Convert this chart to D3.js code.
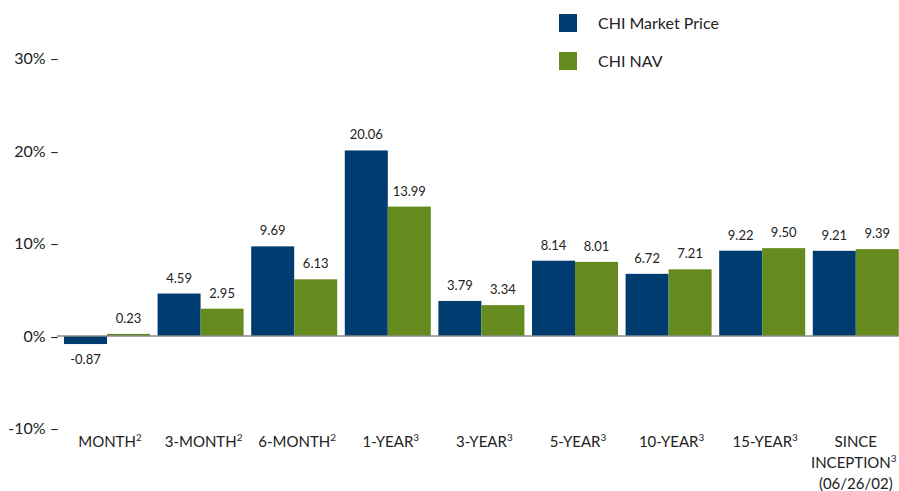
<!DOCTYPE html>
<html>
<head>
<meta charset="utf-8">
<script src="https://cdn.jsdelivr.net/npm/d3@7/dist/d3.min.js"></script>
<style>
  html, body { margin: 0; padding: 0; background: #fff; }
  svg { display: block; font-family: Lato, "Open Sans", sans-serif; }
</style>
</head>
<body>
<svg id="chart" width="899" height="491"></svg>
<script>
// Period categories and their footnote markers
const periods = ["MONTH", "3-MONTH", "6-MONTH", "1-YEAR", "3-YEAR", "5-YEAR", "10-YEAR", "15-YEAR", "SINCE INCEPTION"];
const footnotes = ["2", "2", "2", "3", "3", "3", "3", "3", "3"];
const marketPrice = [-0.87, 4.59, 9.69, 20.06, 3.79, 8.14, 6.72, 9.22, 9.21];
const nav = [0.23, 2.95, 6.13, 13.99, 3.34, 8.01, 7.21, 9.50, 9.39];
const seriesNames = ["CHI Market Price", "CHI NAV"];
const seriesColors = ["#003c6f", "#658b1e"];
const yTicks = [-10, 0, 10, 20, 30];

const svg = d3.select("#chart");

const y = d3.scaleLinear().domain([-10, 30]).range([428.5, 58.5]);

const x = d3.scaleBand()
  .domain(periods)
  .range([60.2, 60.2 + 9 * 93.6])
  .paddingInner(0.081)
  .paddingOuter(0.0405);

const xs = d3.scaleBand().domain(seriesNames).range([0, x.bandwidth()]);

// Y-axis tick labels with dash marks
const yAxis = svg.append("g");
yAxis.selectAll("text")
  .data(yTicks)
  .join("text")
  .attr("x", 59)
  .attr("y", d => y(d))
  .attr("dy", "0.35em")
  .attr("text-anchor", "end")
  .attr("font-size", 16)
  .attr("fill", "#222")
  .text(d => d + "% \u2013");

// Bars
const rows = periods.map((p, i) => ({ period: p, values: [marketPrice[i], nav[i]] }));
const groups = svg.append("g").selectAll("g")
  .data(rows)
  .join("g")
  .attr("transform", d => `translate(${x(d.period)},0)`);

groups.selectAll("rect")
  .data(d => d.values.map((v, j) => ({ name: seriesNames[j], v, j })))
  .join("rect")
  .attr("x", d => xs(d.name))
  .attr("width", xs.bandwidth())
  .attr("y", d => y(Math.max(0, d.v)))
  .attr("height", d => Math.abs(y(d.v) - y(0)))
  .attr("fill", d => seriesColors[d.j]);

// Zero line
svg.append("line")
  .attr("x1", 57).attr("x2", 899)
  .attr("y1", y(0)).attr("y2", y(0))
  .attr("stroke", "#8a8a8a")
  .attr("stroke-width", 1.5);

// Value labels
groups.selectAll("text.val")
  .data(d => d.values.map((v, j) => ({ name: seriesNames[j], v, j })))
  .join("text")
  .attr("class", "val")
  .attr("x", d => xs(d.name) + xs.bandwidth() / 2)
  .attr("y", d => d.v >= 0 ? y(d.v) - 11 : y(d.v) + 20)
  .attr("text-anchor", "middle")
  .attr("font-size", 13)
  .attr("fill", "#222")
  .text(d => d.v.toFixed(2));

// Category labels with superscript footnotes
const catLines = {
  "SINCE INCEPTION": [["SINCE", "", 0], ["INCEPTION", "3", -2], ["(06/26/02)", "", 0]]
};
const cats = svg.append("g").selectAll("text")
  .data(periods.map((p, i) => ({ p, i })))
  .join("text")
  .attr("text-anchor", "middle")
  .attr("font-size", 15)
  .attr("fill", "#222");

cats.each(function(d) {
  const t = d3.select(this);
  const cx = x(d.p) + x.bandwidth() / 2;
  const lines = catLines[d.p] || [[d.p, footnotes[d.i], 3]];
  lines.forEach((ln, k) => {
    t.append("tspan")
      .attr("x", cx + ln[2])
      .attr("y", 447 + k * 21)
      .text(ln[0]);
    if (ln[1]) {
      t.append("tspan")
        .attr("dy", -6)
        .attr("font-size", 10)
        .text(ln[1]);
    }
  });
});

// Legend
const legend = svg.append("g").selectAll("g")
  .data(seriesNames)
  .join("g")
  .attr("transform", (d, i) => `translate(559,${14 + i * 38})`);
legend.append("rect")
  .attr("width", 18).attr("height", 18)
  .attr("fill", (d, i) => seriesColors[i]);
legend.append("text")
  .attr("x", 39).attr("y", 9)
  .attr("dy", "0.35em")
  .attr("font-size", 16)
  .attr("fill", "#222")
  .text(d => d);
</script>
</body>
</html>
